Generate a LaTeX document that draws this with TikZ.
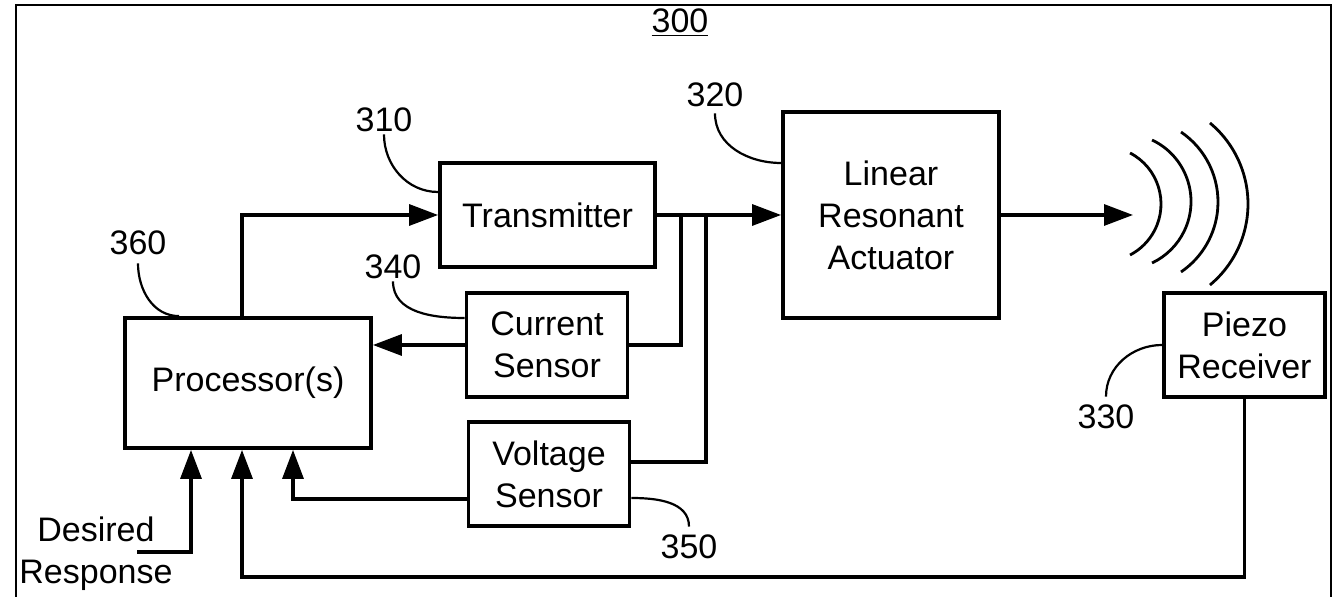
\documentclass[tikz,border=0pt]{standalone}
\usepackage{fontspec}
\setmainfont{Liberation Sans}
\usetikzlibrary{arrows.meta}

\begin{document}
\begin{tikzpicture}[
 x=0.5pt,y=-0.5pt,
 font=\fontsize{17}{21}\selectfont,
 box/.style={draw,line width=1.9pt,align=center,inner sep=0pt},
 smallbox/.style={box,minimum width=80.5pt,minimum height=52pt},
 num/.style={inner sep=1pt},
 arr/.style={-{Triangle[length=14.5pt,width=10.5pt]},line width=1.6pt},
 wire/.style={line width=1.6pt},
 lead/.style={line width=1.1pt}
]
\useasboundingbox (0,0) rectangle (1335,597);
\draw[line width=0.75pt] (16,597) -- (16,5) -- (1331,5) -- (1331,597);

% blocks
\node[box,minimum width=107.5pt,minimum height=52pt] (tx) at (547.5,215) {Transmitter};
\node[box,minimum width=108pt,minimum height=103pt] (lra) at (891,215) {Linear\\Resonant\\Actuator};
\node[smallbox] (cs) at (547,345) {Current\\Sensor};
\node[smallbox] (vs) at (549,474) {Voltage\\Sensor};
\node[smallbox] (pz) at (1244.5,345) {Piezo\\Receiver};
\node[box,minimum width=123pt,minimum height=65pt] (proc) at (248,383) {Processor(s)};
\node[align=center] (des) at (96,554) {Desired\\Response};

% reference numbers
\node[num] (n300) at (680,23) {\underline{300}};
\node[num] (n310) at (384,120) {310};
\node[num] (n320) at (715,95) {320};
\node[num] (n340) at (393,267) {340};
\node[num] (n360) at (138,243) {360};
\node[num] (n330) at (1106,417) {330};
\node[num] (n350) at (689,547) {350};

\coordinate (j1) at (681,215);
\coordinate (j2) at (706,215);
\coordinate (wv) at (1133,215);
\coordinate (fb) at (242,577);
\coordinate (dl) at (137,552);

% signal paths
\draw[arr] ([xshift=-3pt]proc.north) |- (tx.west);
\draw[arr] (tx.east) -- (lra.west);
\draw[wire] (j1) |- (cs.east);
\draw[wire] (j2) |- ([yshift=6pt]vs.east);
\draw[arr] (cs.west) -- (cs.west -| proc.east);
\draw[arr] ([yshift=-12.5pt]vs.west) -| ([xshift=22.5pt]proc.south);
\draw[arr] (pz.south) |- (fb) -- (fb |- proc.south);
\draw[arr] (dl) -| ([xshift=-28.5pt]proc.south);
\draw[arr] (lra.east) -- (wv);

% waves
\foreach \cx/\cy/\r/\a in {1103.5/204/57.5/62.5,1123/201.5/68/64.7,1133.3/202/84.7/55.7,1142.7/204/105.3/50.3}
  \draw[line width=1.4pt] (\cx,\cy) ++(-\a:\r) arc[start angle=-\a,end angle=\a,radius=\r];

% leaders
\draw[lead] (n310.south) to[out=-90,in=180] ([yshift=11.5pt]tx.west);
\draw[lead] ([yshift=-2pt]n320.south) to[out=-90,in=180] ([yshift=26pt]lra.west);
\draw[lead] (n340.south) to[out=-90,in=180] ([yshift=13.5pt]cs.west);
\draw[lead] ([yshift=-3pt]n360.south) to[out=-90,in=180] ([xshift=-34.5pt]proc.north);
\draw[lead] ([yshift=-12pt]vs.east) to[out=0,in=90] ([yshift=3pt]n350.north);
\draw[lead] ([yshift=3pt]n330.north) to[out=90,in=180] (pz.west);
\end{tikzpicture}
\end{document}
